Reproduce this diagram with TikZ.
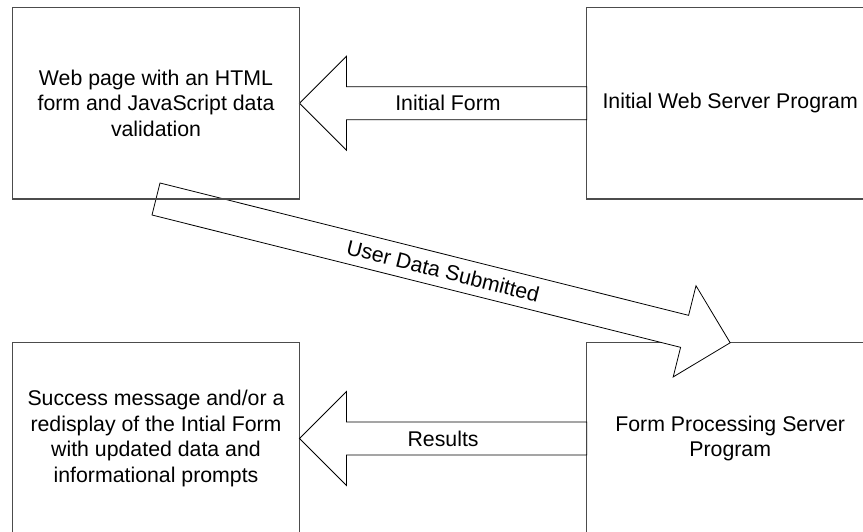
\documentclass[tikz,border=0pt]{standalone}
\usepackage{fontspec}
\setmainfont{Liberation Sans}
\usetikzlibrary{calc}

\tikzset{
  txt/.style={font=\fontsize{21.3}{25.5}\selectfont},
  boxline/.style={draw=black!70, line width=1.3pt},
  box/.style={boxline, fill=white, txt, align=center,
    minimum width=287pt, minimum height=191.5pt,
    inner sep=0pt, outer sep=0pt},
  blockarrow/.style={draw=black, line width=0.8pt, fill=white, line join=miter},
  arrowtext/.style={txt, inner sep=0pt},
}

% wide hollow arrow from #1 to #2: shaft half-width 16.5pt,
% head half-width 47pt, head length 47pt
\newcommand\drawblockarrow[2]{%
  \coordinate (hb) at ($(#2)!47pt!(#1)$);
  \draw[blockarrow]
    ($(#1)!16.5pt!90:(#2)$) -- ($(hb)!16.5pt!90:(#2)$) --
    ($(hb)!47pt!90:(#2)$) -- (#2) -- ($(hb)!47pt!-90:(#2)$) --
    ($(hb)!16.5pt!-90:(#2)$) -- ($(#1)!16.5pt!-90:(#2)$) -- cycle;
}

\begin{document}
\begin{tikzpicture}[x=1pt, y=-1pt]
  \useasboundingbox (0,0) rectangle (863,531);
  \clip (0,0) rectangle (863,531);
  \fill[white] (0,0) rectangle (863,531);

  % boxes
  \node[box] (fp) at (730.2,438.5) {Form Processing Server\\Program};
  \node[box] (res) at (156,438.5) {Success message and/or a\\redisplay of the Intial Form\\with updated data and\\informational prompts};
  \node[box] (ws) at (730.2,103.25) {Initial Web Server Program};
  \node[box] (wp) at (156,103.25) {Web page with an HTML\\form and JavaScript data\\validation};

  % arrows
  \drawblockarrow{ws.west}{wp.east}
  \path (ws.west) -- node[arrowtext, pos=0.483] {Initial Form} (wp.east);

  \drawblockarrow{fp.west}{res.east}
  \path (fp.west) -- node[arrowtext, pos=0.5] {Results} (res.east);

  \drawblockarrow{wp.south}{fp.north}
  \path (wp.south) -- node[arrowtext, sloped, midway] {User Data Submitted} (fp.north);

  % border of the upper left box stays above the arrow tail
  \draw[boxline] (wp.south west) rectangle (wp.north east);
\end{tikzpicture}
\end{document}
